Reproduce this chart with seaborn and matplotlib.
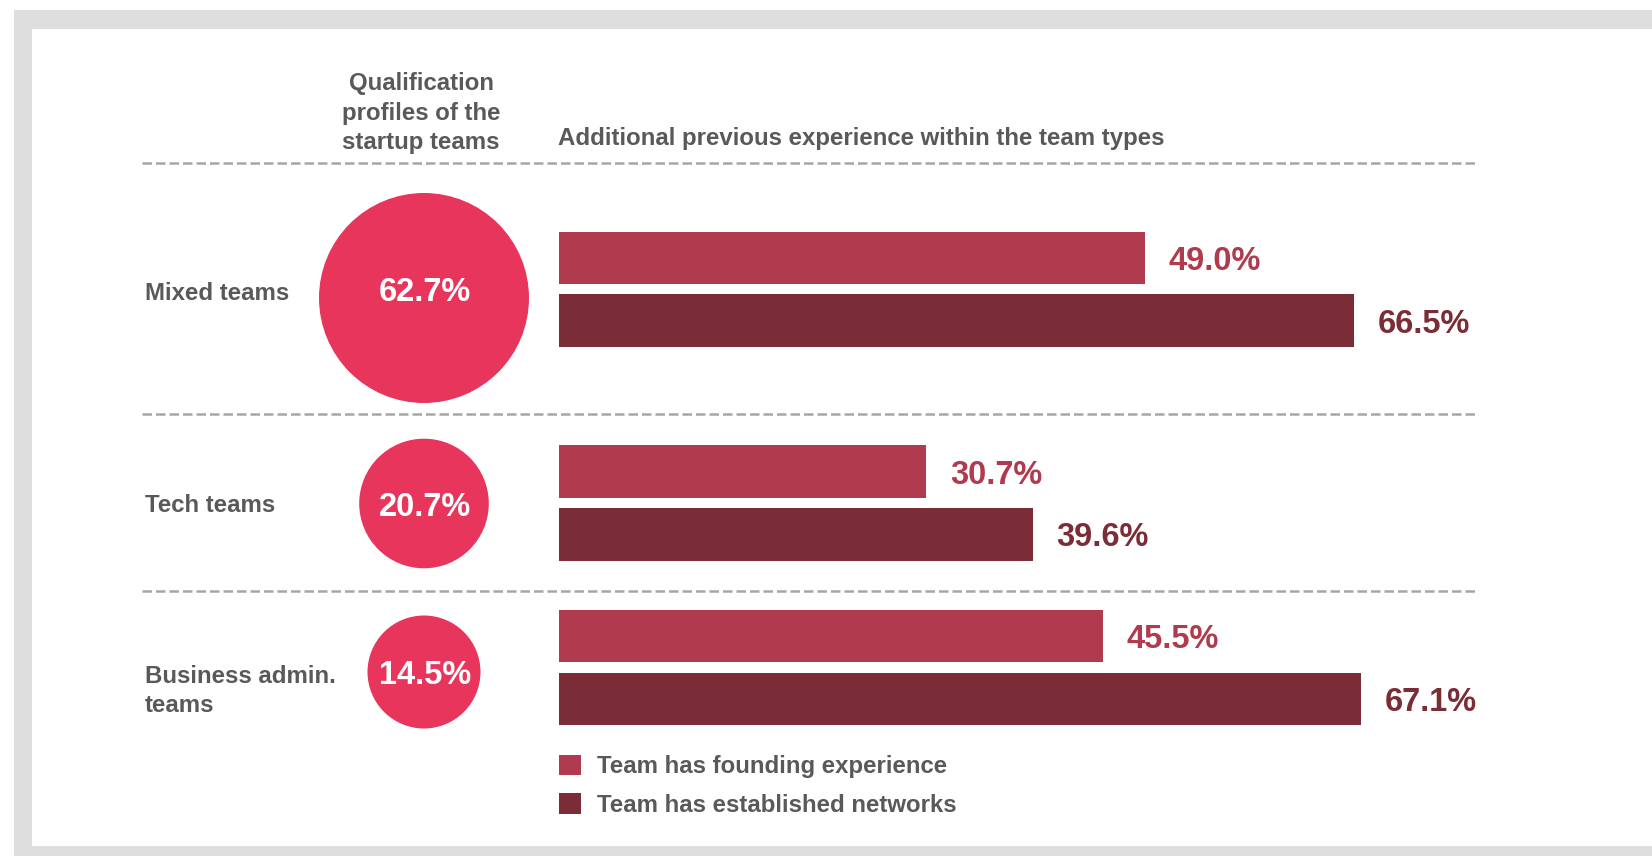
import matplotlib
matplotlib.use("Agg")
import matplotlib.pyplot as plt
from matplotlib.patches import Rectangle
import pandas as pd
import seaborn as sns

# ---- data -------------------------------------------------------------
teams = ["Mixed teams", "Tech teams", "Business admin.\nteams"]
team_share = [62.7, 20.7, 14.5]          # qualification profile share (circles)
measures = ["Team has founding experience", "Team has established networks"]
founding = [49.0, 30.7, 45.5]
networks = [66.5, 39.6, 67.1]

header_left = "Qualification\nprofiles of the\nstartup teams"
header_right = "Additional previous experience within the team types"

# ---- layout / style ---------------------------------------------------
W, H, DPI = 1652, 856, 100
GREY_TEXT = "#595959"
C_FOUND = "#b03a4e"
C_NET = "#7a2d36"
C_CIRCLE = "#e8355b"
C_DASH = "#a6a6a6"
C_FRAME = "#dedede"

BAR_X0 = 559.3          # pixel where bars start
PX_PER_PCT = 11.95      # bar length per percentage point (pixels)
BAR_XMAX = 80
ROW_BAR_Y = [289.3, 503.1, 667.5]     # bar pair centres (pixels from top)
ROW_CIRCLE_Y = [298, 503.5, 672]
ROW_VALUE_Y = [292.5, 507, 675]
ROW_LABEL_Y = [294, 505.5, 691]
CIRCLE_X = 424
SEP_Y = [163.3, 414, 591]
ROW_AX_H = 156.75
LABEL_FS = 17.3
VALUE_FS = 23.5

sns.set_theme(style="white")
plt.rcParams["font.family"] = ["Liberation Sans", "DejaVu Sans"]
plt.rcParams["font.weight"] = "bold"

fig = plt.figure(figsize=(W / DPI, H / DPI), dpi=DPI, facecolor="white")

# overlay axes in pixel coordinates for frame, headings, circles, separators
ov = fig.add_axes([0, 0, 1, 1])
ov.set_xlim(0, W)
ov.set_ylim(H, 0)
ov.axis("off")
ov.add_patch(Rectangle((14, 10), W - 14, H - 10, color=C_FRAME, lw=0, zorder=0))
ov.add_patch(Rectangle((32, 29), W - 32, 846 - 29, color="white", lw=0, zorder=0.5))

ov.text(421, 113, header_left, ha="center", va="center", multialignment="center",
        fontsize=LABEL_FS, fontweight="bold", color=GREY_TEXT, linespacing=1.36)
ov.text(558, 145, header_right, ha="left", va="baseline",
        fontsize=LABEL_FS, fontweight="bold", color=GREY_TEXT)

ov.hlines(SEP_Y, 142, 1475, colors=C_DASH, lw=1.8, linestyles=[(0, (3.8, 1.6))])

for label, y in zip(teams, ROW_LABEL_Y):
    ov.text(145, y, label, ha="left", va="center", fontsize=LABEL_FS,
            fontweight="bold", color=GREY_TEXT, linespacing=1.38)

# circles sized by share of each team type (area grows linearly with value)
circ = pd.DataFrame({"team": teams, "share": team_share,
                     "x": [CIRCLE_X] * len(teams), "y": ROW_CIRCLE_Y})
sns.scatterplot(data=circ, x="x", y="y", size="share", sizes=(6619, 22861),
                color=C_CIRCLE, linewidth=0, legend=False, ax=ov, zorder=2)
for v, y in zip(team_share, ROW_VALUE_Y):
    ov.text(CIRCLE_X + 1, y, f"{v:.1f}%", ha="center", va="center",
            color="white", fontsize=VALUE_FS, fontweight="bold", zorder=3)

# paired bars, one axes per team type
for i, team in enumerate(teams):
    cy = ROW_BAR_Y[i]
    ax = fig.add_axes([BAR_X0 / W, (H - cy - ROW_AX_H / 2) / H,
                       BAR_XMAX * PX_PER_PCT / W, ROW_AX_H / H])
    df = pd.DataFrame({"team": [team, team], "measure": measures,
                       "value": [founding[i], networks[i]]})
    sns.barplot(data=df, x="value", y="team", hue="measure", hue_order=measures,
                palette=[C_FOUND, C_NET], saturation=1, orient="h", width=0.8,
                gap=0.16, errorbar=None, linewidth=0,
                legend=(i == len(teams) - 1), ax=ax)
    ax.set_xlim(0, BAR_XMAX)
    ax.axis("off")
    for cont, col in zip(ax.containers, [C_FOUND, C_NET]):
        anns = ax.bar_label(cont, fmt="%.1f%%", padding=17, color=col,
                            fontsize=VALUE_FS, fontweight="bold")
        for a in anns:
            a.xyann = (17, -2.5)
    if i == len(teams) - 1:
        sns.move_legend(ax, loc="upper left",
                        bbox_to_anchor=(BAR_X0 / W, 1 - 755 / H),
                        bbox_transform=fig.transFigure, title=None,
                        frameon=False, fontsize=LABEL_FS, labelcolor=GREY_TEXT,
                        prop={"weight": "bold", "size": LABEL_FS},
                        handlelength=0.92, handleheight=0.92,
                        handletextpad=0.66, labelspacing=0.62,
                        borderpad=0, borderaxespad=0)

fig.savefig("out.png", dpi=DPI, facecolor="white")
